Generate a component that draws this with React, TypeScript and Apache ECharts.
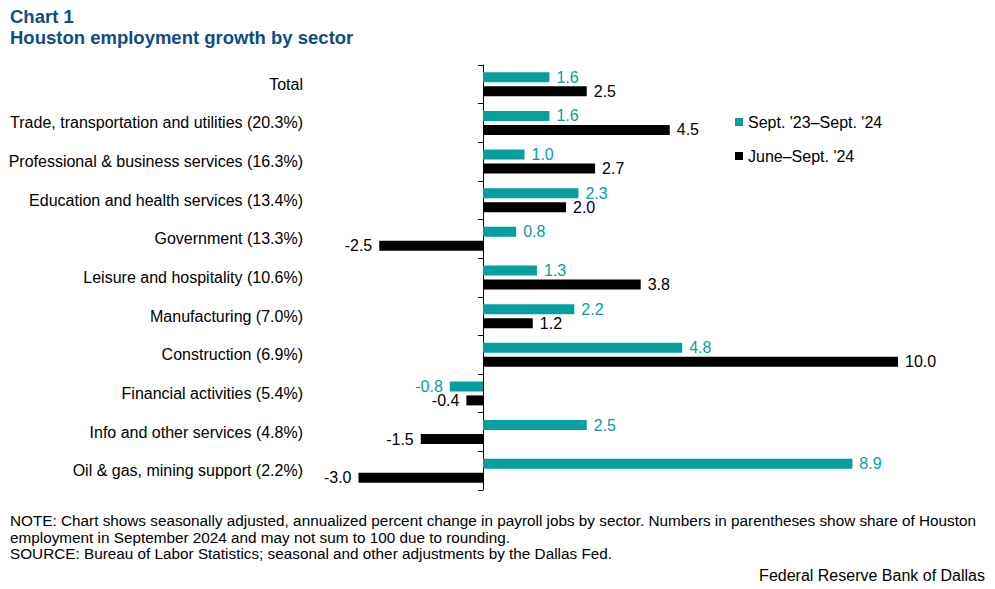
import React, { useEffect, useRef } from "react";
import * as echarts from "echarts";

const categories = [
  "Total",
  "Trade, transportation and utilities (20.3%)",
  "Professional & business services (16.3%)",
  "Education and health services (13.4%)",
  "Government (13.3%)",
  "Leisure and hospitality (10.6%)",
  "Manufacturing (7.0%)",
  "Construction (6.9%)",
  "Financial activities (5.4%)",
  "Info and other services (4.8%)",
  "Oil & gas, mining support (2.2%)",
];
const yearly = [1.6, 1.6, 1.0, 2.3, 0.8, 1.3, 2.2, 4.8, -0.8, 2.5, 8.9];
const quarterly = [2.5, 4.5, 2.7, 2.0, -2.5, 3.8, 1.2, 10.0, -0.4, -1.5, -3.0];
const seriesNames = ["Sept. '23\u2013Sept. '24", "June\u2013Sept. '24"];

const TEAL = "#079e9e";
const BLACK = "#000000";
const FONT = "'Liberation Sans', Arial, sans-serif";

function toData(vals: number[]) {
  return vals.map((v) => ({
    value: v,
    label: { position: v < 0 ? "left" : "right" },
  }));
}

export default function App() {
  const ref = useRef<HTMLDivElement>(null);
  useEffect(() => {
    if (!ref.current) return;
    const chart = echarts.init(ref.current, null, { renderer: "svg" });
    const labelCommon = {
      show: true,
      distance: 7,
      fontSize: 16,
      fontFamily: FONT,
      formatter: (p: any) => Number(p.value).toFixed(1),
    };
    chart.setOption({
      animation: false,
      backgroundColor: "#ffffff",
      textStyle: { fontFamily: FONT },
      title: [
        {
          text: "Chart 1",
          left: 10,
          top: 7,
          padding: 0,
          textStyle: { fontSize: 18.5, fontWeight: "bold", color: "#0f4c81", fontFamily: FONT },
        },
        {
          text: "Houston employment growth by sector",
          left: 10,
          top: 28,
          padding: 0,
          textStyle: { fontSize: 18.5, fontWeight: "bold", color: "#0f4c81", fontFamily: FONT },
        },
      ],
      legend: {
        orient: "vertical",
        left: 730,
        top: 109,
        itemWidth: 8,
        itemHeight: 8,
        itemGap: 18,
        icon: "rect",
        textStyle: { fontSize: 16, color: "#000", fontFamily: FONT },
        data: seriesNames,
      },
      grid: { left: 317, top: 65, width: 581, height: 425, containLabel: false },
      xAxis: {
        type: "value",
        min: -4,
        max: 10,
        show: false,
        splitLine: { show: false },
      },
      yAxis: [
        {
          type: "category",
          data: categories,
          inverse: true,
          position: "left",
          axisLine: { show: false, onZero: false },
          axisTick: { show: false },
          axisLabel: { fontSize: 16, color: "#000", margin: 14, fontFamily: FONT },
        },
        {
          type: "category",
          data: categories,
          inverse: true,
          position: "left",
          axisLine: { show: true, onZero: true, lineStyle: { color: "#000", width: 1 } },
          axisTick: { show: true, length: 5, lineStyle: { color: "#000" } },
          axisLabel: { show: false },
        },
      ],
      series: [
        {
          name: seriesNames[0],
          type: "bar",
          yAxisIndex: 0,
          data: toData(yearly),
          itemStyle: { color: TEAL },
          barWidth: 10,
          barGap: "40%",
          label: { ...labelCommon, color: TEAL },
        },
        {
          name: seriesNames[1],
          type: "bar",
          yAxisIndex: 0,
          data: toData(quarterly),
          itemStyle: { color: BLACK },
          barWidth: 10,
          barGap: "40%",
          label: { ...labelCommon, color: BLACK },
        },
      ],
      graphic: [
        {
          type: "text",
          left: 10,
          top: 512,
          style: {
            text:
              "NOTE: Chart shows seasonally adjusted, annualized percent change in payroll jobs by sector. Numbers in parentheses show share of Houston\nemployment in September 2024 and may not sum to 100 due to rounding.\nSOURCE: Bureau of Labor Statistics; seasonal and other adjustments by the Dallas Fed.",
            fontSize: 15.3,
            lineHeight: 16.7,
            fill: "#000",
            fontFamily: FONT,
          },
        },
        {
          type: "text",
          right: 10,
          top: 567,
          style: {
            text: "Federal Reserve Bank of Dallas",
            fontSize: 16,
            fill: "#000",
            fontFamily: FONT,
          },
        },
      ],
    });
    return () => chart.dispose();
  }, []);
  return <div ref={ref} style={{ width: 995, height: 589, margin: -8 }} />;
}
